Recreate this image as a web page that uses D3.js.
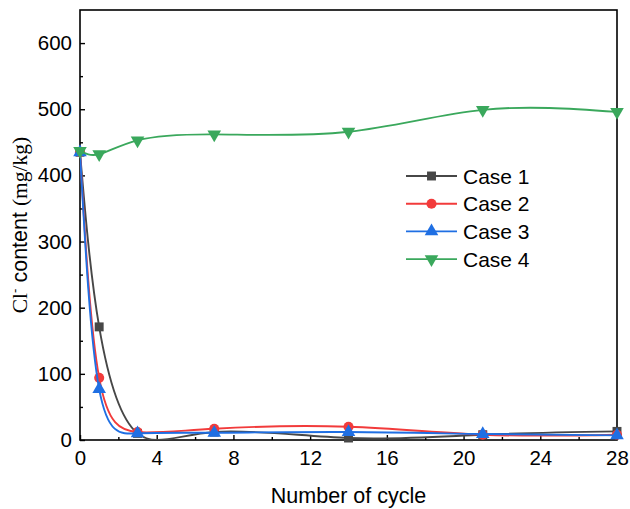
<!DOCTYPE html>
<html>
<head>
<meta charset="utf-8">
<script src="https://cdn.jsdelivr.net/npm/d3@7"></script>
<style>
  body { margin: 0; background: #fff; }
  text { font-family: Arial, "Liberation Sans", sans-serif; }
</style>
</head>
<body>
<script>
// cycles and Cl- content per case
const cycles = [0, 1, 3, 7, 14, 21, 28];
const case1 = [435, 171, 10, 12, 3, 8, 13];
const case2 = [435, 94, 12, 17, 20, 8, 8];
const case3 = [435, 77, 10, 11, 12, 9, 7];
const case4 = [437, 432, 453, 462, 466, 499, 496];
const seriesNames = ['Case 1', 'Case 2', 'Case 3', 'Case 4'];
const xTicks = [0, 4, 8, 12, 16, 20, 24, 28];
const yTicks = [0, 100, 200, 300, 400, 500, 600];

const series = [
  { name: seriesNames[0], values: case1, color: '#474747', marker: 'square' },
  { name: seriesNames[1], values: case2, color: '#f23b3b', marker: 'circle' },
  { name: seriesNames[2], values: case3, color: '#1f6fe3', marker: 'triangle' },
  { name: seriesNames[3], values: case4, color: '#3aa85c', marker: 'triangleDown' }
];

const svgWidth = 630, svgHeight = 509;
const margin = { top: 10, right: 13, bottom: 69, left: 80 };
const width = svgWidth - margin.left - margin.right;
const height = svgHeight - margin.top - margin.bottom;

const svg = d3.select('body').append('svg')
  .attr('width', svgWidth)
  .attr('height', svgHeight);

const g = svg.append('g')
  .attr('transform', `translate(${margin.left}, ${margin.top})`);

const x = d3.scaleLinear().domain([0, 28]).range([0, width]);
const y = d3.scaleLinear().domain([0, 650]).range([height, 0]);

// clip so the curves stay inside the frame
g.append('clipPath').attr('id', 'clip')
  .append('rect').attr('width', width).attr('height', height);

// minor ticks
g.append('g')
  .attr('transform', `translate(0, ${height})`)
  .call(d3.axisBottom(x).tickValues(d3.range(2, 28, 4)).tickSize(-3).tickFormat(''))
  .call(a => a.select('.domain').remove())
  .call(a => a.selectAll('line').attr('stroke-width', 1.4));
g.append('g')
  .call(d3.axisLeft(y).tickValues(d3.range(50, 650, 100)).tickSize(-3).tickFormat(''))
  .call(a => a.select('.domain').remove())
  .call(a => a.selectAll('line').attr('stroke-width', 1.4));

// major ticks
g.append('g')
  .attr('transform', `translate(0, ${height})`)
  .call(d3.axisBottom(x).tickValues(xTicks).tickSize(-5).tickPadding(10))
  .call(a => a.select('.domain').remove())
  .call(a => a.selectAll('line').attr('stroke-width', 1.4))
  .call(a => a.selectAll('text').attr('font-size', 20.5).attr('fill', '#000'));
g.append('g')
  .call(d3.axisLeft(y).tickValues(yTicks).tickSize(-5).tickPadding(8))
  .call(a => a.select('.domain').remove())
  .call(a => a.selectAll('line').attr('stroke-width', 1.4))
  .call(a => a.selectAll('text').attr('font-size', 20.5).attr('fill', '#000'));

// frame
g.append('rect')
  .attr('width', width).attr('height', height)
  .attr('fill', 'none').attr('stroke', '#000').attr('stroke-width', 1.6);

const line = d3.line()
  .x((d, i) => x(cycles[i]))
  .y(d => y(d))
  .curve(d3.curveNatural);

const markerType = {
  square: d3.symbolSquare,
  circle: d3.symbolCircle,
  triangle: d3.symbolTriangle,
  triangleDown: d3.symbolTriangle
};
const markerSize = { square: 80, circle: 80, triangle: 80, triangleDown: 80 };

function drawMarker(sel, s) {
  sel.append('path')
    .attr('d', d3.symbol().type(markerType[s.marker]).size(markerSize[s.marker]))
    .attr('fill', s.color)
    .attr('transform', s.marker === 'triangleDown' ? 'rotate(180)' : null);
}

series.forEach(s => {
  g.append('path')
    .datum(s.values)
    .attr('clip-path', 'url(#clip)')
    .attr('fill', 'none')
    .attr('stroke', s.color)
    .attr('stroke-width', 1.9)
    .attr('d', line);

  g.selectAll(null)
    .data(s.values)
    .join('g')
    .attr('transform', (d, i) => `translate(${x(cycles[i])}, ${y(d)})`)
    .each(function () { drawMarker(d3.select(this), s); });
});

// legend
const legend = svg.append('g').attr('transform', 'translate(406, 176)');
series.forEach((s, i) => {
  const row = legend.append('g').attr('transform', `translate(0, ${i * 27.7})`);
  row.append('line')
    .attr('x1', 0).attr('x2', 51)
    .attr('stroke', s.color).attr('stroke-width', 1.9);
  const m = row.append('g').attr('transform', 'translate(25.5, 0)');
  drawMarker(m, s);
  row.append('text')
    .attr('x', 57).attr('y', 0).attr('dy', '0.36em')
    .attr('font-size', 21).attr('fill', '#000')
    .text(s.name);
});

// axis titles
svg.append('text')
  .attr('x', margin.left + width / 2).attr('y', 503)
  .attr('text-anchor', 'middle')
  .attr('font-size', 21.5)
  .text('Number of cycle');

const yTitle = svg.append('text')
  .attr('transform', `translate(27, ${margin.top + 215}) rotate(-90)`)
  .attr('text-anchor', 'middle')
  .attr('font-size', 21.5);
yTitle.append('tspan').attr('font-family', '"Liberation Serif", "Times New Roman", serif').text('Cl');
yTitle.append('tspan').attr('font-size', 13).attr('dy', -8).text('-');
yTitle.append('tspan').attr('dy', 8).text(' content ');
yTitle.append('tspan').attr('font-family', '"Liberation Serif", "Times New Roman", serif').text('(mg/kg)');
</script>
</body>
</html>
